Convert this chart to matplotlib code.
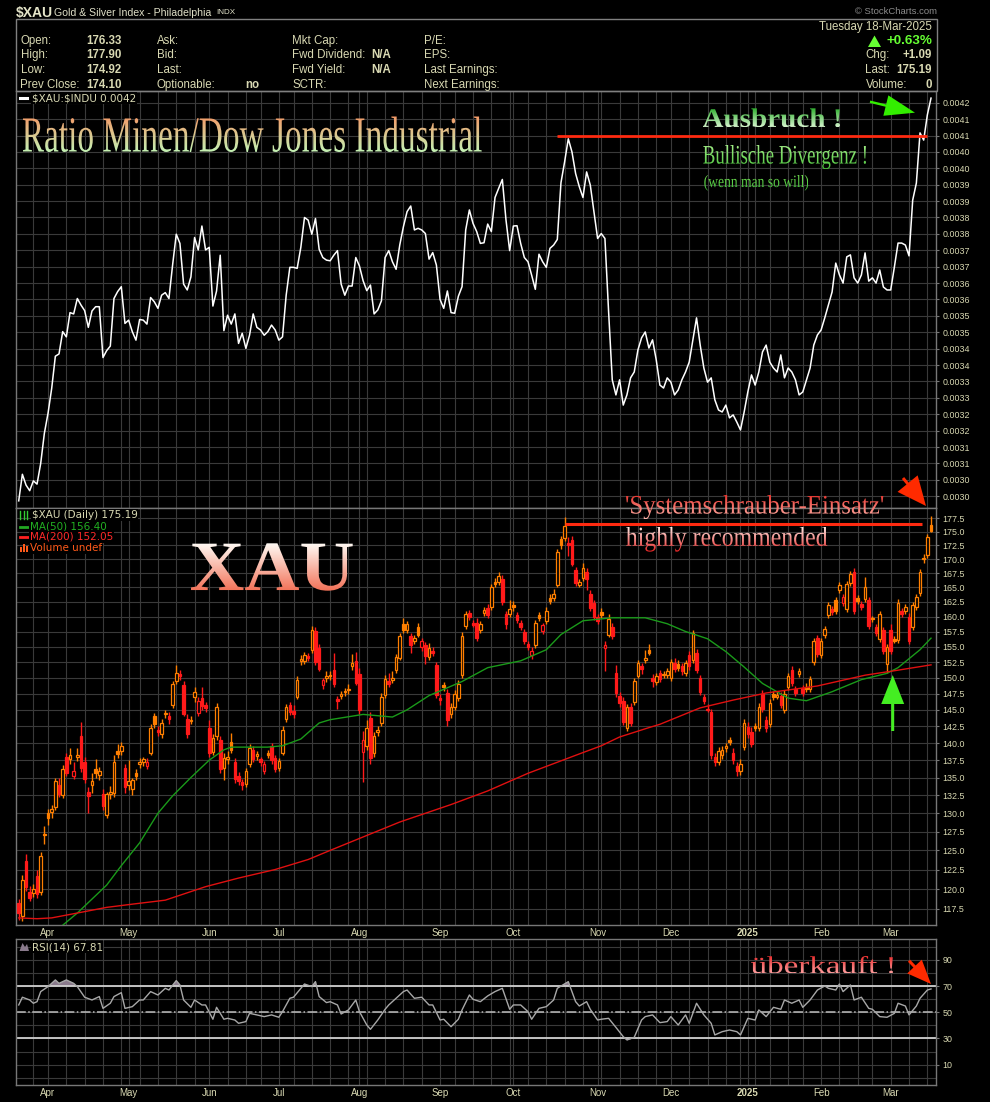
import matplotlib

matplotlib.use("Agg")
import math

import matplotlib.pyplot as plt
import numpy as np
import pandas as pd
from matplotlib.colors import LinearSegmentedColormap
from matplotlib.font_manager import FontProperties
from matplotlib.patches import FancyArrow, PathPatch, Polygon, Rectangle
from matplotlib.textpath import TextPath
from matplotlib.ticker import FixedLocator, NullLocator
from matplotlib.transforms import Affine2D

# trading calendar of the chart (1 year daily)
START, END = "2024-03-19", "2025-03-18"
HOLIDAYS = ["2024-03-29", "2024-05-27", "2024-06-19", "2024-07-04", "2024-09-02",
            "2024-11-28", "2024-12-25", "2025-01-01", "2025-01-09", "2025-01-20",
            "2025-02-17"]

# $XAU daily candles
xau_open = [
    118.3, 116.6, 123.6, 119.6, 119.5, 121.7, 119.6, 127.2, 130.0, 130.2,
    130.8, 134.0, 132.5, 138.0, 137.6, 135.2, 137.9, 141.0, 137.2, 133.0,
    134.0, 136.2, 135.3, 132.6, 129.8, 132.6, 132.8, 138.9, 138.9, 136.3,
    134.0, 133.4, 135.6, 137.0, 137.2, 136.7, 138.6, 144.0, 142.0, 141.3,
    144.4, 144.0, 145.8, 149.5, 150.6, 148.8, 143.6, 143.3, 147.0, 144.5,
    146.8, 145.7, 142.3, 138.7, 141.0, 140.5, 136.4, 137.7, 140.2, 137.2,
    135.2, 134.3, 134.1, 137.0, 139.0, 138.1, 137.6, 136.0, 138.5, 139.5,
    137.8, 136.4, 138.6, 143.6, 145.7, 144.8, 147.0, 152.6, 152.6, 153.4,
    154.4, 157.6, 154.8, 148.8, 150.0, 150.2, 151.3, 146.6, 147.1, 147.9,
    148.1, 151.8, 152.6, 150.6, 138.7, 139.5, 143.8, 138.5, 141.6, 143.0,
    147.3, 149.5, 149.6, 151.2, 153.2, 158.8, 157.8, 156.7, 155.9, 158.3,
    154.9, 155.3, 153.3, 154.3, 152.0, 146.8, 148.9, 147.6, 144.3, 145.5,
    146.8, 150.4, 158.4, 160.6, 158.9, 159.0, 157.7, 160.6, 161.5, 161.6,
    165.9, 166.0, 166.5, 160.5, 160.4, 161.9, 160.2, 158.9, 157.4, 155.4,
    153.6, 155.2, 160.2, 157.6, 159.3, 163.2, 163.2, 165.4, 173.6, 173.8,
    173.0, 173.5, 168.0, 165.5, 166.7, 167.7, 163.9, 162.3, 159.9, 160.8,
    154.8, 157.0, 158.3, 150.8, 147.2, 146.3, 142.3, 145.4, 146.2, 150.3,
    151.8, 152.8, 154.4, 150.0, 149.4, 150.8, 150.4, 150.4, 150.0, 152.3,
    152.2, 151.8, 150.8, 153.7, 152.9, 154.0, 149.9, 146.9, 145.0, 144.6,
    138.0, 137.3, 138.2, 139.2, 140.4, 138.6, 136.6, 136.0, 139.4, 142.4,
    141.6, 142.6, 142.2, 147.5, 143.4, 142.9, 147.4, 147.0, 147.2, 145.0,
    148.5, 151.3, 148.2, 150.6, 148.4, 148.6, 148.3, 152.5, 156.5, 153.7,
    157.0, 160.3, 161.3, 162.8, 164.6, 162.3, 161.3, 165.8, 167.8, 163.2,
    162.2, 163.0, 162.8, 159.6, 158.2, 156.3, 157.8, 152.2, 157.8, 156.2,
    156.1, 161.0, 161.0, 160.0, 158.3, 161.6, 164.0, 170.3, 170.8, 176.33,
]
xau_high = [
    118.8, 121.8, 124.5, 120.4, 120.6, 122.5, 124.8, 128.2, 130.6, 131.2,
    135.0, 135.0, 136.8, 138.6, 139.2, 137.2, 139.3, 143.2, 138.0, 133.6,
    135.6, 137.6, 136.5, 133.4, 133.0, 133.8, 138.2, 139.8, 140.2, 137.0,
    137.5, 135.0, 136.2, 137.8, 138.0, 137.8, 142.9, 144.5, 142.5, 143.6,
    145.0, 144.6, 149.5, 152.0, 151.2, 149.5, 144.4, 144.0, 148.6, 147.0,
    148.6, 146.2, 143.4, 141.4, 146.0, 141.0, 138.5, 138.8, 141.5, 137.8,
    135.8, 134.8, 136.4, 139.8, 139.6, 138.9, 138.0, 137.4, 139.0, 140.0,
    138.2, 137.8, 142.5, 145.9, 146.2, 145.7, 150.2, 153.6, 154.1, 154.0,
    158.4, 158.2, 155.4, 150.0, 151.0, 151.0, 154.0, 147.2, 147.9, 148.4,
    149.0, 153.8, 154.2, 151.5, 141.8, 143.4, 144.6, 141.6, 142.6, 147.6,
    150.4, 150.8, 151.0, 153.8, 157.3, 159.8, 159.3, 157.2, 157.0, 158.9,
    156.5, 155.8, 155.6, 155.0, 152.5, 147.4, 149.4, 148.2, 146.0, 148.0,
    149.6, 157.4, 161.0, 161.2, 159.4, 159.8, 159.3, 161.6, 162.2, 165.6,
    166.6, 167.8, 167.2, 161.0, 162.8, 162.6, 160.8, 159.4, 158.0, 156.0,
    155.0, 159.5, 160.7, 159.0, 161.6, 163.8, 164.8, 171.9, 174.3, 177.8,
    174.0, 174.2, 168.6, 166.4, 169.3, 168.4, 164.6, 162.8, 160.4, 161.4,
    156.0, 160.4, 159.0, 152.0, 147.8, 147.0, 145.9, 146.0, 150.0, 152.9,
    152.4, 154.4, 155.4, 150.6, 150.7, 151.3, 151.1, 151.6, 153.0, 153.2,
    152.8, 152.4, 152.8, 154.3, 157.8, 154.6, 150.4, 147.4, 145.9, 145.2,
    138.6, 139.4, 139.5, 140.0, 140.9, 139.2, 137.2, 137.6, 143.6, 143.2,
    142.4, 143.0, 146.0, 148.0, 144.0, 146.6, 147.9, 147.9, 147.7, 148.0,
    150.7, 151.8, 148.7, 151.5, 148.9, 149.1, 150.3, 156.5, 157.0, 156.5,
    158.5, 162.4, 161.8, 163.3, 165.9, 163.9, 166.1, 167.9, 168.4, 163.7,
    162.7, 166.8, 163.3, 160.1, 158.7, 160.9, 158.3, 155.5, 158.8, 156.8,
    163.0, 161.5, 162.1, 160.6, 162.4, 163.8, 168.2, 170.9, 174.6, 177.90,
]
xau_low = [
    116.2, 116.0, 119.8, 118.5, 119.0, 118.9, 119.2, 125.8, 128.4, 129.4,
    130.4, 132.3, 132.1, 135.2, 137.0, 134.8, 137.4, 135.8, 134.2, 130.0,
    132.8, 135.0, 134.6, 130.5, 129.3, 132.0, 132.3, 137.8, 138.2, 132.8,
    133.3, 132.5, 134.6, 136.4, 136.6, 136.2, 138.2, 142.2, 141.0, 140.8,
    143.8, 142.8, 145.3, 149.0, 149.6, 144.0, 140.8, 142.8, 146.2, 144.0,
    145.0, 144.6, 138.0, 138.2, 140.5, 135.6, 134.6, 137.0, 138.5, 134.2,
    134.0, 133.2, 133.6, 136.5, 137.2, 137.5, 136.6, 135.5, 137.8, 137.0,
    135.8, 135.9, 138.2, 143.2, 144.2, 143.8, 146.6, 152.0, 152.2, 152.6,
    154.0, 152.0, 151.0, 148.3, 149.4, 149.6, 148.6, 145.2, 146.6, 147.2,
    147.5, 151.3, 148.8, 144.4, 134.3, 139.0, 137.0, 138.0, 141.0, 142.5,
    146.8, 148.6, 149.2, 150.8, 152.8, 157.2, 157.3, 154.0, 155.4, 156.6,
    154.3, 152.2, 152.8, 153.4, 146.8, 145.8, 147.9, 142.6, 143.8, 145.0,
    146.4, 149.9, 157.9, 159.4, 158.2, 156.0, 157.2, 160.1, 159.7, 161.1,
    165.1, 165.5, 162.0, 158.0, 160.0, 161.0, 158.9, 157.7, 155.4, 154.4,
    153.0, 154.8, 159.2, 157.1, 158.8, 162.2, 162.7, 165.0, 171.9, 173.3,
    170.5, 168.7, 165.2, 165.0, 166.2, 164.6, 161.0, 159.5, 158.7, 159.8,
    151.0, 156.6, 156.3, 147.0, 145.4, 142.7, 141.8, 142.5, 145.8, 149.9,
    150.6, 152.3, 153.6, 148.6, 148.8, 149.4, 149.9, 149.9, 149.5, 150.9,
    151.1, 150.4, 150.3, 151.3, 152.4, 150.8, 147.3, 145.9, 144.6, 137.6,
    136.6, 136.8, 137.7, 138.7, 139.7, 137.0, 135.2, 135.4, 139.0, 140.8,
    139.4, 141.8, 141.8, 144.6, 141.7, 142.4, 146.5, 146.6, 145.3, 144.5,
    148.0, 148.7, 147.1, 150.1, 147.1, 147.7, 147.8, 152.0, 153.3, 153.2,
    156.5, 159.8, 160.3, 160.4, 164.1, 161.8, 160.8, 165.3, 160.5, 162.2,
    161.1, 162.5, 157.9, 159.1, 156.7, 155.8, 153.8, 150.8, 153.8, 155.6,
    155.6, 160.0, 160.5, 155.5, 157.8, 161.1, 163.5, 169.3, 170.3, 174.92,
]
xau_close = [
    117.0, 121.2, 120.3, 118.9, 120.0, 119.4, 124.3, 127.0, 129.3, 130.6,
    134.5, 132.7, 136.2, 135.6, 138.3, 136.0, 138.3, 136.3, 134.8, 132.4,
    134.5, 135.6, 136.0, 131.0, 132.6, 133.0, 137.2, 138.4, 139.5, 133.6,
    134.5, 134.6, 135.2, 137.3, 137.6, 137.2, 142.3, 142.8, 141.6, 143.0,
    144.5, 143.6, 149.0, 150.8, 150.3, 144.4, 141.3, 143.5, 147.8, 146.4,
    145.6, 145.3, 138.5, 140.7, 145.5, 136.2, 137.8, 138.0, 139.0, 134.8,
    134.5, 133.9, 136.0, 139.3, 137.7, 138.4, 137.2, 136.9, 138.2, 137.5,
    136.2, 137.4, 142.0, 145.4, 144.6, 144.4, 149.7, 153.0, 153.6, 153.1,
    157.7, 152.5, 151.4, 149.6, 150.3, 150.5, 149.0, 146.3, 147.4, 147.8,
    148.3, 152.4, 149.2, 145.0, 140.4, 142.3, 137.8, 141.0, 142.0, 147.0,
    149.8, 149.0, 150.0, 153.3, 156.7, 157.8, 158.8, 155.3, 156.5, 157.0,
    156.0, 153.5, 154.8, 154.0, 147.3, 146.5, 148.5, 143.4, 145.4, 147.5,
    149.0, 156.7, 160.4, 160.0, 158.6, 156.5, 158.7, 161.1, 160.2, 165.0,
    165.6, 167.0, 162.5, 158.7, 161.3, 161.6, 159.4, 158.3, 156.0, 155.0,
    154.3, 158.9, 159.7, 158.6, 161.0, 162.7, 163.8, 171.3, 172.5, 176.0,
    172.5, 169.2, 165.8, 165.9, 168.5, 166.5, 161.4, 160.0, 159.2, 160.3,
    155.3, 159.6, 156.8, 147.6, 146.0, 143.2, 145.5, 143.0, 149.5, 152.4,
    151.4, 153.2, 154.0, 149.5, 150.2, 149.8, 150.6, 151.0, 152.5, 151.4,
    151.6, 151.0, 152.3, 151.8, 157.2, 151.3, 147.8, 146.4, 145.2, 138.2,
    137.2, 138.8, 139.0, 139.5, 140.1, 137.5, 136.0, 137.0, 143.0, 141.3,
    139.9, 142.3, 145.5, 145.1, 142.2, 146.1, 147.0, 147.3, 145.8, 147.5,
    150.2, 149.2, 147.6, 151.0, 147.6, 148.2, 149.8, 156.0, 153.8, 156.0,
    158.0, 161.9, 160.8, 160.9, 165.4, 163.4, 165.6, 167.4, 161.0, 162.7,
    161.6, 165.0, 158.4, 159.6, 157.2, 160.4, 154.3, 155.0, 154.3, 156.0,
    162.3, 160.5, 161.6, 156.0, 161.9, 163.3, 167.7, 170.0, 174.1, 175.19,
]

# $XAU:$INDU ratio, one value per trading day
ratio = [
    0.002986, 0.003067, 0.003034, 0.003017, 0.003047, 0.003037, 0.003100, 0.003192, 0.003253, 0.003329,
    0.003427, 0.003434, 0.003502, 0.003486, 0.003560, 0.003556, 0.003603, 0.003583, 0.003566, 0.003515,
    0.003565, 0.003578, 0.003578, 0.003423, 0.003444, 0.003458, 0.003603, 0.003624, 0.003639, 0.003527,
    0.003537, 0.003502, 0.003476, 0.003539, 0.003537, 0.003525, 0.003606, 0.003593, 0.003573, 0.003613,
    0.003621, 0.003603, 0.003705, 0.003799, 0.003771, 0.003647, 0.003629, 0.003669, 0.003789, 0.003751,
    0.003824, 0.003751, 0.003759, 0.003580, 0.003626, 0.003735, 0.003505, 0.003552, 0.003525, 0.003556,
    0.003466, 0.003497, 0.003451, 0.003491, 0.003556, 0.003515, 0.003507, 0.003491, 0.003502, 0.003522,
    0.003507, 0.003476, 0.003486, 0.003613, 0.003698, 0.003698, 0.003695, 0.003759, 0.003850, 0.003842,
    0.003799, 0.003847, 0.003753, 0.003728, 0.003720, 0.003718, 0.003735, 0.003749, 0.003647, 0.003613,
    0.003641, 0.003641, 0.003728, 0.003702, 0.003657, 0.003627, 0.003644, 0.003556, 0.003568, 0.003596,
    0.003728, 0.003749, 0.003715, 0.003692, 0.003766, 0.003822, 0.003868, 0.003885, 0.003812, 0.003817,
    0.003812, 0.003801, 0.003723, 0.003743, 0.003705, 0.003600, 0.003573, 0.003626, 0.003560, 0.003558,
    0.003610, 0.003639, 0.003812, 0.003873, 0.003832, 0.003807, 0.003771, 0.003773, 0.003830, 0.003807,
    0.003911, 0.003939, 0.003966, 0.003842, 0.003749, 0.003824, 0.003825, 0.003771, 0.003728, 0.003715,
    0.003674, 0.003631, 0.003738, 0.003715, 0.003698, 0.003756, 0.003766, 0.003783, 0.003956, 0.004020,
    0.004090, 0.004050, 0.003984, 0.003944, 0.003911, 0.003989, 0.003949, 0.003868, 0.003786, 0.003801,
    0.003786, 0.003563, 0.003355, 0.003309, 0.003355, 0.003278, 0.003309, 0.003361, 0.003379, 0.003446,
    0.003483, 0.003501, 0.003452, 0.003477, 0.003416, 0.003339, 0.003330, 0.003361, 0.003348, 0.003309,
    0.003324, 0.003355, 0.003379, 0.003409, 0.003477, 0.003544, 0.003461, 0.003391, 0.003348, 0.003361,
    0.003294, 0.003263, 0.003257, 0.003278, 0.003239, 0.003248, 0.003226, 0.003202, 0.003257, 0.003318,
    0.003370, 0.003339, 0.003379, 0.003440, 0.003461, 0.003409, 0.003391, 0.003379, 0.003431, 0.003361,
    0.003391, 0.003379, 0.003355, 0.003309, 0.003318, 0.003355, 0.003391, 0.003461, 0.003492, 0.003507,
    0.003544, 0.003583, 0.003623, 0.003711, 0.003675, 0.003650, 0.003730, 0.003736, 0.003666, 0.003650,
    0.003675, 0.003742, 0.003656, 0.003666, 0.003650, 0.003690, 0.003638, 0.003629, 0.003629, 0.003699,
    0.003772, 0.003772, 0.003766, 0.003733, 0.003903, 0.003955, 0.004108, 0.004086, 0.004163, 0.004214,
]

# moving averages, read at sample bars
ma50_bar = [12, 16, 24, 28, 33, 38, 42, 47, 52, 56, 58, 68, 72, 77, 82, 85, 94, 102, 106, 112, 121,
            128, 137, 144, 148, 154, 162, 171, 177, 182, 188, 193, 198, 203, 210, 215, 222, 230,
            237, 240, 246, 249]
ma50_val = [115.5, 117.0, 120.5, 123.0, 126.0, 130.0, 132.4, 135.0, 137.5, 139.0, 139.4, 139.4,
            139.6, 140.6, 143.0, 143.5, 144.3, 143.9, 145.0, 147.2, 149.4, 151.6, 152.7, 154.5,
            157.0, 159.3, 159.8, 159.8, 158.8, 157.5, 156.3, 154.2, 151.7, 149.1, 146.8, 146.4,
            147.8, 149.7, 150.7, 151.6, 154.5, 156.40]
ma200_bar = [0, 5, 9, 16, 24, 31, 40, 51, 60, 70, 79, 85, 104, 118, 128, 139, 153, 159, 164, 172,
             175, 186, 195, 204, 218, 231, 240, 249]
ma200_val = [116.4, 116.3, 116.4, 117.0, 117.7, 118.1, 118.6, 120.3, 121.4, 122.5, 123.8, 125.0,
             128.8, 131.2, 133.1, 135.6, 138.4, 139.6, 140.9, 142.3, 142.8, 145.3, 146.5, 147.6,
             148.7, 150.4, 151.2, 152.05]

# RSI(14), read at sample bars
rsi_bar = [0, 1, 3, 4, 5, 6, 8, 10, 11, 13, 15, 16, 18, 20, 22, 23, 25, 26, 28, 29,
           31, 33, 34, 36, 38, 40, 41, 43, 44, 45, 47, 48, 50, 51, 53, 54, 56, 57, 59, 60,
           62, 63, 65, 67, 69, 71, 72, 74, 75, 77, 78, 80, 81, 82, 84, 85, 87, 88, 90, 92,
           93, 95, 96, 98, 100, 101, 103, 105, 106, 108, 110, 112, 113, 115, 116, 118, 120, 121, 123, 124,
           126, 128, 130, 132, 134, 135, 137, 139, 140, 142, 144, 146, 147, 150, 152, 153, 155, 156, 158, 159,
           161, 163, 165, 166, 168, 170, 171, 173, 175, 177, 178, 180, 182, 183, 185, 187, 189, 190, 192, 194,
           196, 197, 199, 201, 202, 204, 206, 208, 209, 211, 213, 214, 216, 217, 218, 220, 221, 223, 224, 225,
           227, 228, 230, 232, 233, 235, 237, 239, 240, 242, 243, 245, 246, 248, 249]
rsi_val = [55.6, 61.5, 59.4, 56.9, 58.1, 65.8, 69.6, 74.7, 72.1, 74.7, 72.1, 69.6, 61.5, 59.4, 62.0, 53.0, 56.9, 62.0, 65.0, 53.0,
           54.3, 59.4, 59.4, 65.8, 63.2, 68.3, 67.0, 74.2, 70.9, 59.4, 53.8, 59.4, 55.6, 55.6, 44.7, 53.8, 44.7, 45.4, 44.1, 41.6,
           42.9, 49.2, 48.0, 46.7, 48.0, 46.2, 50.5, 60.7, 61.5, 68.3, 71.6, 69.6, 73.4, 62.0, 57.4, 58.1, 55.6, 48.7, 51.8, 59.4,
           50.5, 40.3, 37.0, 44.1, 52.3, 55.6, 60.7, 65.8, 67.0, 60.7, 61.5, 55.6, 55.6, 44.1, 44.7, 39.0, 44.7, 51.8, 63.2, 59.9,
           58.1, 62.5, 65.8, 68.3, 52.3, 55.6, 55.6, 50.5, 44.7, 53.0, 54.3, 59.4, 68.3, 73.4, 58.1, 54.8, 58.1, 52.3, 44.1, 44.7,
           45.4, 38.5, 31.4, 28.9, 30.9, 44.1, 46.7, 48.0, 42.1, 42.9, 46.7, 40.3, 48.0, 41.6, 56.9, 48.0, 41.6, 32.7, 35.2, 36.5,
           35.2, 32.7, 45.4, 44.1, 51.8, 46.7, 53.8, 52.3, 59.4, 56.9, 59.4, 53.8, 59.4, 63.2, 67.0, 70.1, 68.3, 67.0, 71.6, 65.8,
           70.9, 59.4, 61.5, 53.0, 52.3, 46.7, 46.2, 49.2, 56.9, 54.8, 48.0, 54.8, 60.7, 67.0, 67.81]

# horizontal "breakout" levels drawn on the chart
ratio_level, ratio_level_span = 0.004099, (147, 248)
xau_level, xau_level_span = 176.5, (149, 246.5)

BG = "black"
GRID = "#3a3a3a"
SPINE = "#777777"
KHAKI = "#d8d8b2"
ORANGE = "#ff7f00"
RED = "#ff1a1a"
SANS = ["Liberation Sans", "DejaVu Sans"]
W, H = 990, 1102


def fig_rect(x0, y0, x1, y1):
    return [x0 / W, 1 - y1 / H, (x1 - x0) / W, (y1 - y0) / H]


def style_panel(ax, xlim):
    ax.set_facecolor(BG)
    ax.set_xlim(*xlim)
    for sp in ax.spines.values():
        sp.set_color(SPINE)
        sp.set_linewidth(1.0)
    ax.yaxis.tick_right()
    ax.tick_params(axis="y", which="major", colors=SPINE, labelcolor=KHAKI, labelsize=6.4,
                   length=2.5, pad=2, direction="out")
    ax.tick_params(axis="y", which="minor", length=0)
    ax.tick_params(axis="x", which="both", length=0, labelcolor=KHAKI, labelsize=7.0, pad=2)
    for lbl in ax.get_yticklabels():
        lbl.set_family(SANS)
    ax.grid(True, which="both", color=GRID, linewidth=0.8)
    ax.set_axisbelow(True)


def gradient_text(ax, s, box, top, bottom, weight="normal", family="Liberation Serif"):
    x0, y0, x1, y1 = box
    tp = TextPath((0, 0), s, size=100, prop=FontProperties(family=family, weight=weight))
    ext = tp.get_extents()
    sx = (x1 - x0) / ext.width
    sy = (y1 - y0) / ext.height
    tr = Affine2D().translate(-ext.x0, -ext.y1).scale(sx, -sy).translate(x0, y0)
    patch = PathPatch(tr.transform_path(tp), facecolor="none", edgecolor="none")
    ax.add_patch(patch)
    cmap = LinearSegmentedColormap.from_list("g", [top, bottom])
    im = ax.imshow(np.linspace(0, 1, 64).reshape(-1, 1), cmap=cmap, aspect="auto",
                   extent=(x0, x1, y1, y0), origin="upper", interpolation="bilinear", zorder=6)
    im.set_clip_path(patch)


def arrow(ax, tail, tip, color, head_w, head_l, shaft_w):
    ax.add_patch(FancyArrow(tail[0], tail[1], tip[0] - tail[0], tip[1] - tail[1], width=shaft_w,
                            head_width=head_w, head_length=head_l, length_includes_head=True,
                            color=color, linewidth=0, zorder=7))


dates = pd.bdate_range(START, END, freq="C", holidays=HOLIDAYS)
n = len(dates)
idx = np.arange(n)
month_pos = [i for i in range(1, n) if dates[i].month != dates[i - 1].month]
month_lbl = ["2025" if dates[i].month == 1 else dates[i].strftime("%b") for i in month_pos]
week_pos = [i for i in range(1, n) if dates[i].weekday() < dates[i - 1].weekday()]
XLIM = (-0.74, n + 0.36)

o = np.array(xau_open)
h = np.array(xau_high)
lo = np.array(xau_low)
c = np.array(xau_close)
prev = np.concatenate([[o[0]], c[:-1]])
col = np.where(c >= prev, ORANGE, RED)
face = np.where(c > o, BG, col)

fig = plt.figure(figsize=(W / 100, H / 100), dpi=100, facecolor=BG)

# ---- ratio panel
ax1 = fig.add_axes(fig_rect(16, 91, 936, 508))
ax1.plot(idx, ratio, color="white", linewidth=1.1, zorder=3)
ax1.hlines(ratio_level, *ratio_level_span, color="#ff2a10", linewidth=2.0, zorder=4)
ax1.set_ylim(0.0029642, 0.0042357)
rt = [v / 1e5 for v in range(300, 421, 5)]
ax1.yaxis.set_major_locator(FixedLocator(rt))
ax1.set_yticklabels([f"{math.floor(v * 1e4 + 1e-7) / 1e4:.4f}" for v in rt])
ax1.set_xticks(month_pos)
ax1.set_xticks(week_pos, minor=True)
ax1.set_xticklabels([])
style_panel(ax1, XLIM)

# ---- price panel
ax2 = fig.add_axes(fig_rect(16, 508, 936, 925))
ax2.set_yscale("log")
ax2.vlines(idx, lo, h, colors=col, linewidth=1.0, zorder=3)
ax2.bar(idx, np.maximum(np.abs(c - o), 0.15), bottom=np.minimum(o, c), width=0.7,
        color=face, edgecolor=col, linewidth=0.9, zorder=4)
ax2.plot(ma50_bar, ma50_val, color="#1a9a1a", linewidth=1.0, zorder=5)
ax2.plot(ma200_bar, ma200_val, color="#e01010", linewidth=1.0, zorder=5)
ax2.hlines(xau_level, *xau_level_span, color="#ff2a10", linewidth=2.2, zorder=6)
ax2.set_ylim(115.53, 179.44)
pt = [117.5 + 2.5 * k for k in range(25)]
ax2.yaxis.set_major_locator(FixedLocator(pt))
ax2.yaxis.set_minor_locator(NullLocator())
ax2.set_yticklabels([f"{v:.1f}" for v in pt])
ax2.set_xticks(month_pos)
ax2.set_xticks(week_pos, minor=True)
ax2.set_xticklabels(month_lbl)
style_panel(ax2, XLIM)

# ---- RSI panel
ax3 = fig.add_axes(fig_rect(16, 939, 936, 1085))
rb = np.array(rsi_bar)
rv = np.array(rsi_val)
ax3.fill_between(rb, rv, 70, where=rv > 70, interpolate=True, color="#8a7a8c", linewidth=0, zorder=2)
ax3.fill_between(rb, rv, 30, where=rv < 30, interpolate=True, color="#8a7a8c", linewidth=0, zorder=2)
ax3.plot(rb, rv, color="#a8a8a8", linewidth=1.0, zorder=3)
ax3.axhline(70, color="#cfcfcf", linewidth=1.3, zorder=2)
ax3.axhline(30, color="#cfcfcf", linewidth=1.3, zorder=2)
ax3.axhline(50, color="#bdbdbd", linewidth=1.1, linestyle="-.", zorder=2)
ax3.set_ylim(-5.5, 105.95)
ax3.set_yticks([10, 30, 50, 70, 90])
ax3.set_yticks([0, 20, 40, 60, 80, 100], minor=True)
ax3.set_xticks(month_pos)
ax3.set_xticks(week_pos, minor=True)
ax3.set_xticklabels(month_lbl)
style_panel(ax3, XLIM)

for ax in (ax2, ax3):
    for lbl in ax.get_xticklabels():
        lbl.set_family(SANS)
        if lbl.get_text() == "2025":
            lbl.set_fontweight("bold")

# ---- overlay in pixel coordinates: header, legends, annotations
ov = fig.add_axes([0, 0, 1, 1], zorder=10)
ov.set_axis_off()
ov.patch.set_alpha(0)


def txt(x, y, s, size=8.3, weight="normal", color=KHAKI, ha="left", family=SANS, box=False):
    kw = {}
    if box:
        kw["bbox"] = dict(facecolor=BG, edgecolor="none", pad=0.6)
    ov.text(x, y, s, fontsize=size, fontweight=weight, color=color, ha=ha, va="center",
            family=family, **kw)


ov.add_patch(Rectangle((16, 19), 921, 72, facecolor="none", edgecolor="#808080", linewidth=1.0))
txt(16, 12.5, "\\$XAU", size=10, weight="bold", color="#e4e4c8")
txt(54, 12.5, "Gold & Silver Index - Philadelphia", size=7.6, color="#e0e0c8")
txt(216, 13, "INDX", size=5.8, color="#e0e0c8")
txt(937, 11.5, "© StockCharts.com", size=6.8, color="#8c8c8c", ha="right")

rows = [40.7, 55.3, 70.0, 84.7]
for y, lab, val in zip(rows, ["Open:", "High:", "Low:", "Prev Close:"],
                       ["176.33", "177.90", "174.92", "174.10"]):
    txt(20.5, y, lab)
    txt(86.5, y, val, weight="bold")
for y, lab in zip(rows, ["Ask:", "Bid:", "Last:", "Optionable:"]):
    txt(156.5, y, lab)
txt(245, rows[3], "no", weight="bold")
for y, lab in zip(rows, ["Mkt Cap:", "Fwd Dividend:", "Fwd Yield:", "SCTR:"]):
    txt(292.5, y, lab)
txt(371.5, rows[1], "N/A", weight="bold")
txt(371.5, rows[2], "N/A", weight="bold")
for y, lab in zip(rows, ["P/E:", "EPS:", "Last Earnings:", "Next Earnings:"]):
    txt(424, y, lab)
txt(932, 26.7, "Tuesday 18-Mar-2025", ha="right")
txt(932, 41.3, "+0.63%", size=9.6, weight="bold", color="#66ff33", ha="right")
ov.add_patch(Polygon([[868, 47], [874.5, 35.5], [881, 47]], closed=True, color="#66ff33", linewidth=0))
for y, lab, val in zip(rows[1:], ["Chg:", "Last:", "Volume:"], ["+1.09", "175.19", "0"]):
    txt(865.5, y, lab)
    txt(932, y, val, weight="bold", ha="right")

# panel legends
LEG = ["DejaVu Sans"]
ov.plot([19.5, 27], [98.3, 98.3], color="white", linewidth=2.2)
txt(31.5, 98.3, "\\$XAU:\\$INDU 0.0042", size=7.5, family=LEG, box=True)
for dx in (20, 23.5, 27):
    ov.plot([dx, dx], [511, 519], color="#33cc33", linewidth=1.0)
txt(31.5, 515, "\\$XAU (Daily) 175.19", size=7.5, family=LEG, box=True)
ov.plot([19.5, 28], [526.7, 526.7], color="#22a822", linewidth=2.0)
txt(29.5, 526.7, "MA(50) 156.40", size=7.5, color="#22b022", family=LEG, box=True)
ov.plot([19.5, 28], [536.7, 536.7], color="#ff2020", linewidth=2.0)
txt(29.5, 536.7, "MA(200) 152.05", size=7.5, color="#ff2a2a", family=LEG, box=True)
for bx, bh in ((19.5, 5), (22.5, 8), (25.5, 6)):
    ov.add_patch(Rectangle((bx, 551.5 - bh), 2.2, bh, color="#ff5a1a", linewidth=0))
txt(30, 547.7, "Volume undef", size=7.5, color="#ff5a1a", family=LEG, box=True)
ov.add_patch(Polygon([[19.5, 951], [22.5, 943], [25, 947], [27, 944], [29, 951]],
                     closed=True, color="#8a7a8c", linewidth=0))
txt(31.5, 947, "RSI(14) 67.81", size=7.5, family=LEG, box=True)

# hand-drawn style annotations
gradient_text(ov, "Ratio Minen/Dow Jones Industrial", (22.7, 116.5, 481.7, 152),
              "#f59a68", "#c4f2b4")
gradient_text(ov, "Ausbruch !", (702.7, 108.3, 840, 127.3), "#2fae2f", "#d4f4cc", weight="bold")
gradient_text(ov, "Bullische Divergenz !", (703.3, 145, 866, 169.3), "#a6f08a", "#48c23a")
gradient_text(ov, "(wenn man so will)", (704.3, 175, 808.3, 190.7), "#70dc50", "#3fb83a")
gradient_text(ov, "XAU", (190.7, 543.3, 352.7, 590.7), "#fffaf4", "#f27258", weight="bold")
gradient_text(ov, "'Systemschrauber-Einsatz'", (626, 495, 883.3, 519.3), "#e8302a", "#ffb4aa")
gradient_text(ov, "highly recommended", (626, 526.7, 827.3, 551.7), "#ffeae4", "#e42222")
gradient_text(ov, "überkauft !", (751, 956, 893, 973.5), "#e82a2a", "#ff9c9c")

arrow(ov, (870, 101.7), (915, 112.7), "#33ee00", head_w=21, head_l=30, shaft_w=2.4)
arrow(ov, (903, 478), (926, 506), "#ff2a00", head_w=26, head_l=29, shaft_w=3.0)
arrow(ov, (892.7, 731), (892.7, 675), "#44ee22", head_w=23, head_l=29, shaft_w=3.0)
arrow(ov, (909, 960.7), (931, 984), "#ff2a00", head_w=20, head_l=24, shaft_w=3.0)

ov.set_xlim(0, W)
ov.set_ylim(H, 0)

fig.savefig("out.png", dpi=100, facecolor=BG)
